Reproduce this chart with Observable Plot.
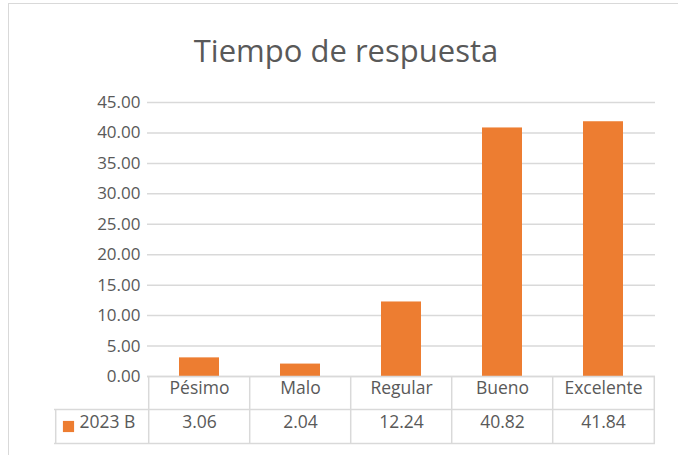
<!DOCTYPE html>
<html>
<head>
<meta charset="utf-8">
<script src="https://cdn.jsdelivr.net/npm/d3@7"></script>
<script src="https://cdn.jsdelivr.net/npm/@observablehq/plot@0.6"></script>
<style>
  body { margin: 0; background: #fff; }
  #wrap { position: relative; width: 678px; height: 455px; overflow: hidden; font-family: "Open Sans", sans-serif; }
  #border { position: absolute; left: 8px; top: 3px; width: 720px; height: 500px; border: 1.5px solid #d9d9d9; box-sizing: border-box; }
  #title { position: absolute; left: 8px; width: 676px; top: 30px; text-align: center; font-size: 31px; color: #595959; line-height: 40px; white-space: nowrap; }
  #chart { position: absolute; left: 0; top: 0; }
</style>
</head>
<body>
<div id="wrap">
  <div id="border"></div>
  <div id="title">Tiempo de respuesta</div>
  <div id="chart"></div>
</div>
<script>
const categories = ["Pésimo", "Malo", "Regular", "Bueno", "Excelente"];
const values = [3.06, 2.04, 12.24, 40.82, 41.84];
const seriesName = "2023 B";
const yTicks = [0, 5, 10, 15, 20, 25, 30, 35, 40, 45];

const data = categories.map((c, i) => ({cat: c, value: values[i]}));
const orange = "#ED7D31";
const grey = "#595959";
const line = "#d9d9d9";
const step = (655 - 147) / categories.length;
const half = step / 2;

const plot = Plot.plot({
  width: 678,
  height: 455,
  marginLeft: 147,
  marginRight: 23,
  marginTop: 102,
  marginBottom: 79,
  style: {fontFamily: "Open Sans, sans-serif", color: grey, background: "transparent", overflow: "visible"},
  x: {domain: categories, paddingInner: 0.6, paddingOuter: 0.3, axis: null},
  y: {domain: [0, 45], axis: null},
  marks: [
    Plot.gridY(yTicks, {stroke: line, strokeOpacity: 1, strokeWidth: 1.5}),
    Plot.axisY(yTicks, {label: null, tickSize: 0, tickPadding: 7, fontSize: 17, fill: grey, tickFormat: d => d.toFixed(2)}),
    Plot.barY(data, {x: "cat", y: "value", fill: orange}),
    // table horizontal lines
    Plot.ruleY([0], {stroke: line, strokeWidth: 1.5}),
    Plot.ruleY([0], {stroke: line, strokeWidth: 1.5, dy: 33, insetLeft: -93}),
    Plot.ruleY([0], {stroke: line, strokeWidth: 1.5, dy: 67, insetLeft: -93}),
    // table vertical lines
    Plot.ruleX(categories, {x: d => d, stroke: line, strokeWidth: 1.5, dx: -half, insetTop: 274, insetBottom: -67}),
    Plot.ruleX([categories[categories.length - 1]], {x: d => d, stroke: line, strokeWidth: 1.5, dx: half, insetTop: 274, insetBottom: -67}),
    Plot.ruleX([categories[0]], {x: d => d, stroke: line, strokeWidth: 1.5, dx: -half - 93, insetTop: 307, insetBottom: -67}),
    // category labels
    Plot.text(data, {x: "cat", text: "cat", frameAnchor: "bottom", dy: 17, fontSize: 17.5, fill: grey}),
    // values
    Plot.text(data, {x: "cat", text: d => d.value.toFixed(2), frameAnchor: "bottom", dy: 51, fontSize: 17.5, fill: grey}),
    // legend key
    Plot.dot([seriesName], {frameAnchor: "bottom-left", dx: -79, dy: 50, symbol: "square", r: 6.3, fill: orange}),
    Plot.text([seriesName], {text: d => d, frameAnchor: "bottom-left", dx: -68, dy: 51, textAnchor: "start", fontSize: 17.5, fill: grey})
  ]
});
document.getElementById("chart").appendChild(plot);
</script>
</body>
</html>
